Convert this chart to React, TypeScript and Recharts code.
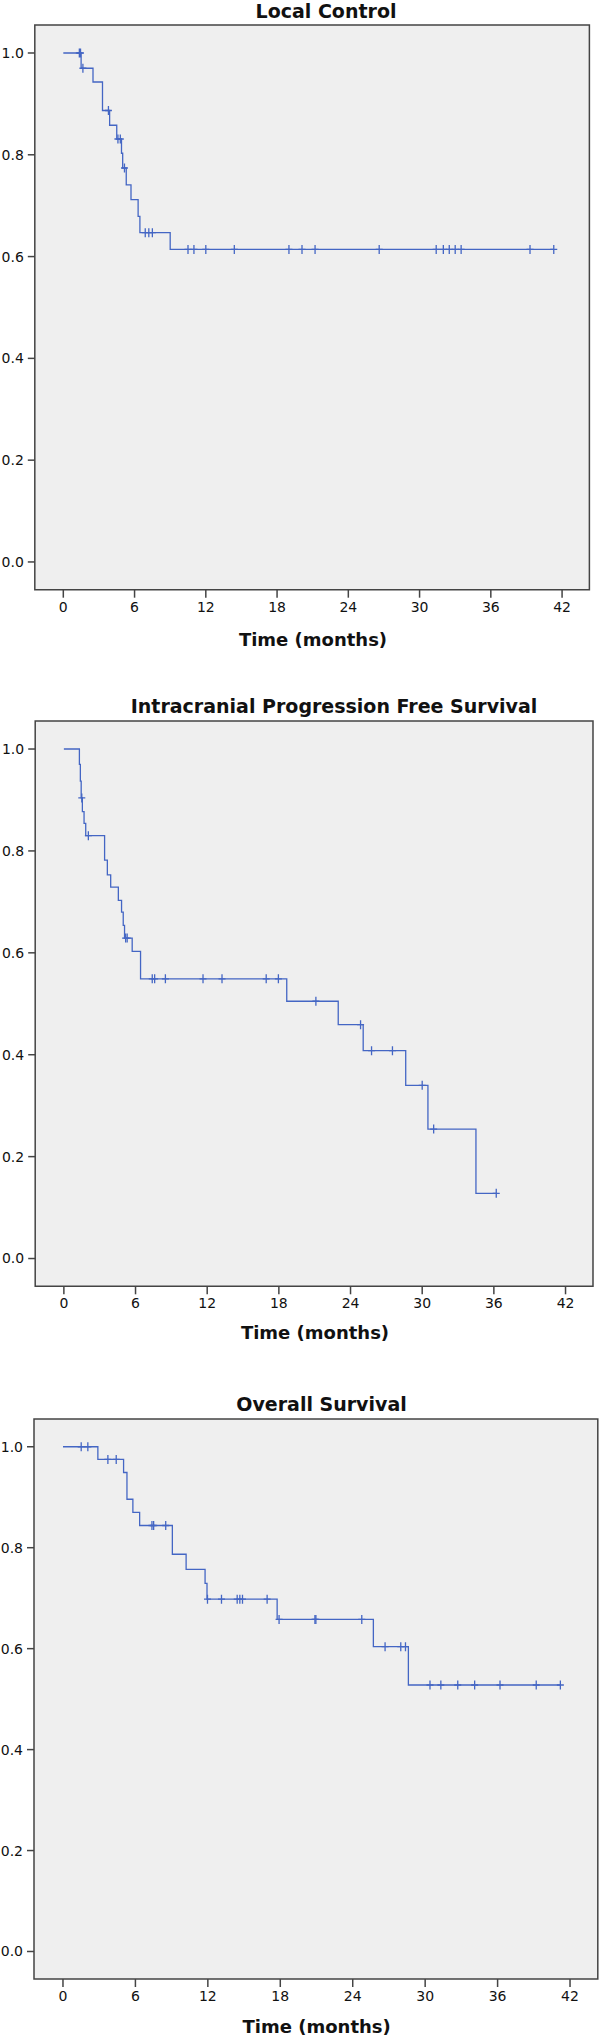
import { ComposedChart, Line, Scatter, XAxis, YAxis, ReferenceArea } from 'recharts'

// Local Control
const lcStepT = [0, 1.5, 2.5, 3.3, 3.9, 4.5, 4.9, 5.0, 5.3, 5.7, 6.3, 6.45, 9.0]
const lcStepS = [1, 0.97, 0.943, 0.887, 0.858, 0.831, 0.803, 0.774, 0.741, 0.712, 0.679, 0.647, 0.614]
const lcCensorT = [1.35, 1.45, 1.65, 3.8, 4.6, 4.8, 5.15, 6.9, 7.2, 7.5, 10.5, 11.0, 12.0, 14.4, 19.0, 20.1, 21.2, 26.6, 31.4, 32.0, 32.5, 33.0, 33.5, 39.3, 41.3]

// Intracranial Progression Free Survival
const ipfsStepT = [0, 1.3, 1.38, 1.45, 1.55, 1.69, 1.83, 3.41, 3.64, 3.92, 4.56, 4.83, 4.97, 5.08, 5.72, 6.42, 18.66, 22.97, 25.06, 28.62, 30.48, 34.5]
const ipfsStepS = [1, 0.97, 0.937, 0.904, 0.877, 0.854, 0.83, 0.782, 0.753, 0.729, 0.703, 0.68, 0.654, 0.629, 0.603, 0.549, 0.505, 0.459, 0.408, 0.34, 0.254, 0.128]
const ipfsCensorT = [1.5, 2.05, 5.17, 5.3, 7.4, 7.6, 8.5, 11.65, 13.24, 16.94, 17.96, 21.1, 24.84, 25.76, 27.51, 30.0, 30.96, 36.2]

// Overall Survival
const osStepT = [0, 2.89, 5.02, 5.3, 5.79, 6.35, 9.06, 10.2, 11.77, 11.93, 17.74, 25.71, 28.61]
const osStepS = [1, 0.975, 0.949, 0.896, 0.87, 0.844, 0.787, 0.757, 0.7295, 0.698, 0.658, 0.604, 0.528]
const osCensorT = [1.51, 2.06, 3.72, 4.41, 7.37, 7.51, 8.51, 11.97, 13.13, 14.43, 14.65, 14.87, 16.91, 17.9, 20.87, 20.95, 24.75, 26.68, 27.98, 28.37, 30.4, 31.3, 32.7, 34.1, 36.2, 39.2, 41.2]

const X_TICKS = [0, 6, 12, 18, 24, 30, 36, 42]
const Y_TICKS = [0, 0.2, 0.4, 0.6, 0.8, 1.0]
const X_DOMAIN: [number, number] = [-2.4, 44.3]
const Y_DOMAIN: [number, number] = [-0.0545, 1.055]

const BLUE = '#4466c4'
const FRAME = '#444444'
const FONT = '"DejaVu Sans", sans-serif'

function buildCurve(stepT: number[], stepS: number[], censorT: number[]) {
  const line = stepT.map((t, i) => ({ t, s: stepS[i] }))
  const end = Math.max(...censorT)
  if (end > stepT[stepT.length - 1]) line.push({ t: end, s: stepS[stepS.length - 1] })
  // censor marks sit on the curve level at their time
  const marks = censorT.map((t) => {
    let s = stepS[0]
    stepT.forEach((st, i) => {
      if (st <= t) s = stepS[i]
    })
    return { t, s }
  })
  return { line, marks }
}

const Cross = (props: any) => {
  const { cx, cy } = props
  if (cx == null || cy == null) return null
  return (
    <path
      d={`M${cx - 3.5},${cy}H${cx + 3.5}M${cx},${cy - 4.5}V${cy + 4.5}`}
      stroke={BLUE}
      strokeWidth={1.3}
      fill="none"
    />
  )
}

function KMPanel({
  title,
  titleX,
  titleY,
  axisX,
  axisY,
  frameTop,
  frameBottom,
  frameLeft,
  frameRight,
  stepT,
  stepS,
  censorT,
}: {
  title: string
  titleX: number
  titleY: number
  axisX: number
  axisY: number
  frameTop: number
  frameBottom: number
  frameLeft: number
  frameRight: number
  stepT: number[]
  stepS: number[]
  censorT: number[]
}) {
  const { line, marks } = buildCurve(stepT, stepS, censorT)
  const height = frameBottom - frameTop + 20 + 30
  return (
    <>
      <div
        style={{
          position: 'absolute',
          left: titleX - 300,
          top: titleY - 9,
          width: 600,
          textAlign: 'center',
          fontFamily: FONT,
          fontWeight: 'bold',
          fontSize: 19,
          lineHeight: '19px',
          color: '#111',
          whiteSpace: 'nowrap',
        }}
      >
        {title}
      </div>
      <div style={{ position: 'absolute', left: 0, top: frameTop - 20 }}>
        <ComposedChart
          width={600}
          height={height}
          margin={{ top: 20, right: 600 - frameRight, bottom: 0, left: 0 }}
        >
          <XAxis
            type="number"
            dataKey="t"
            domain={X_DOMAIN}
            ticks={X_TICKS}
            allowDataOverflow
            interval={0}
            height={30}
            axisLine={false}
            tickSize={8}
            tickMargin={4}
            tickLine={{ stroke: FRAME, strokeWidth: 1.5 }}
            tick={{ fontSize: 14, fill: '#111', fontFamily: FONT }}
          />
          <YAxis
            type="number"
            dataKey="s"
            domain={Y_DOMAIN}
            ticks={Y_TICKS}
            allowDataOverflow
            interval={0}
            width={frameLeft}
            axisLine={false}
            tickSize={7}
            tickMargin={4}
            tickLine={{ stroke: FRAME, strokeWidth: 1.5 }}
            tick={{ fontSize: 14, fill: '#111', fontFamily: FONT }}
            tickFormatter={(v: number) => v.toFixed(1)}
          />
          <ReferenceArea
            x1={X_DOMAIN[0]}
            x2={X_DOMAIN[1]}
            y1={Y_DOMAIN[0]}
            y2={Y_DOMAIN[1]}
            fill="#efefef"
            fillOpacity={1}
            stroke={FRAME}
            strokeWidth={1.5}
          />
          <Line
            data={line}
            dataKey="s"
            type="stepAfter"
            stroke={BLUE}
            strokeWidth={1.3}
            dot={false}
            activeDot={false}
            isAnimationActive={false}
          />
          <Scatter data={marks} shape={Cross} isAnimationActive={false} />
        </ComposedChart>
      </div>
      <div
        style={{
          position: 'absolute',
          left: axisX - 300,
          top: axisY - 9,
          width: 600,
          textAlign: 'center',
          fontFamily: FONT,
          fontWeight: 'bold',
          fontSize: 18,
          lineHeight: '18px',
          color: '#111',
        }}
      >
        Time (months)
      </div>
    </>
  )
}

export default function App() {
  return (
    <div style={{ position: 'absolute', left: 0, top: 0, width: 600, height: 2038, background: '#fff' }}>
      <KMPanel
        title="Local Control"
        titleX={326}
        titleY={10.5}
        axisX={313}
        axisY={639.5}
        frameTop={25.3}
        frameBottom={590}
        frameLeft={34.8}
        frameRight={589.4}
        stepT={lcStepT}
        stepS={lcStepS}
        censorT={lcCensorT}
      />
      <KMPanel
        title="Intracranial Progression Free Survival"
        titleX={334}
        titleY={705.5}
        axisX={315}
        axisY={1333}
        frameTop={720.7}
        frameBottom={1286}
        frameLeft={35.2}
        frameRight={593}
        stepT={ipfsStepT}
        stepS={ipfsStepS}
        censorT={ipfsCensorT}
      />
      <KMPanel
        title="Overall Survival"
        titleX={321.5}
        titleY={1404}
        axisX={316.7}
        axisY={2027}
        frameTop={1419}
        frameBottom={1979}
        frameLeft={34}
        frameRight={597.8}
        stepT={osStepT}
        stepS={osStepS}
        censorT={osCensorT}
      />
    </div>
  )
}
